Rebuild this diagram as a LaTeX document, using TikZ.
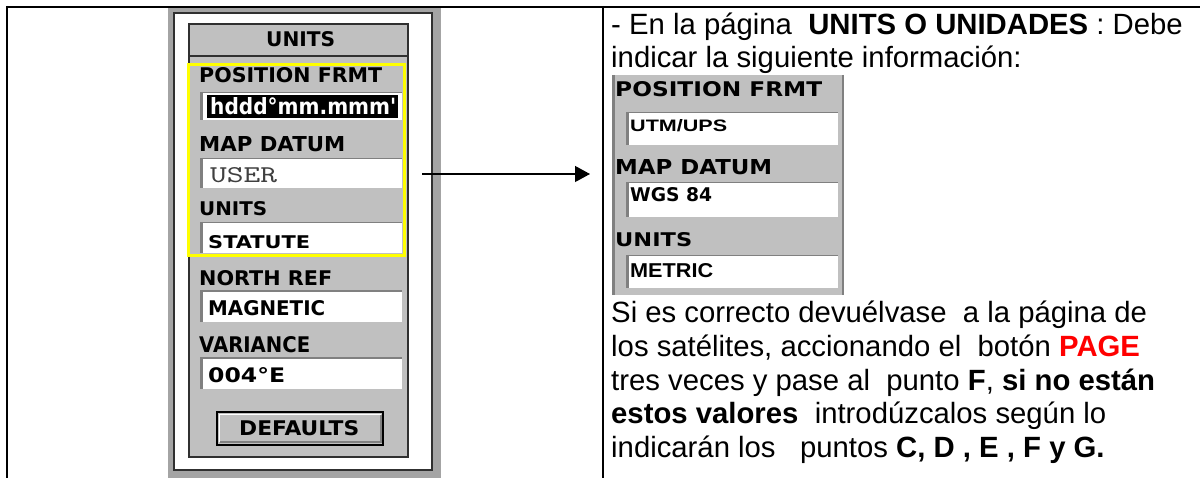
\documentclass[tikz,border=0pt]{standalone}
\usepackage{fontspec}
\usepackage{graphicx}
\setmainfont{Liberation Sans}
\newfontfamily\lcdfont{DejaVu Sans}
\usetikzlibrary{arrows.meta}
\definecolor{lcdgray}{HTML}{C0C0C0}
\definecolor{bandgray}{HTML}{A4A4A4}
\definecolor{insetgray}{HTML}{808080}
\definecolor{framedark}{HTML}{303030}
\definecolor{pagered}{HTML}{FF0000}
\definecolor{hlyellow}{HTML}{FFFF00}
\newcommand{\gfit}[3]{\resizebox{#1pt}{#2pt}{#3}}
\newcommand{\lcdfield}[4]{%
  \fill[white] (#1,#2) rectangle (#3,#4);
  \draw[insetgray, line width=3pt] (#1+1.5,#2) -- (#1+1.5,#4);
  \draw[insetgray, line width=1.5pt] (#1,#2+0.75) -- (#3,#2+0.75);
}
\tikzset{
  lbl/.style={anchor=base west, inner sep=0pt, font=\lcdfont\bfseries},
  body/.style={anchor=base west, inner sep=0pt, font=\fontsize{29.3}{34}\selectfont},
  rule/.style={black, line width=2pt},
}
\begin{document}
\begin{tikzpicture}[x=1pt,y=-1pt]
\useasboundingbox (0,0) rectangle (1201,478);
\fill[white] (0,0) rectangle (1201,478);
% table lines
\draw[rule] (6,7) -- (1200,7);
\draw[rule] (7,6) -- (7,478);
\draw[rule] (603,6) -- (603,478);

% ---------- left screenshot ----------
\fill[bandgray] (168,8) rectangle (441,478);
\filldraw[fill=white, draw=framedark, line width=1.5pt] (174,13) rectangle (432,470);
\filldraw[fill=lcdgray, draw=framedark, line width=2pt] (189,24) rectangle (408,457);
\draw[framedark, line width=2pt] (189,56) -- (408,56);
\node[lbl] (ttl) at (266,47) {\gfit{69}{15}{UNITS}};

\node[lbl] (l1) at (199,83) {\gfit{183}{15}{POSITION FRMT}};
\lcdfield{200}{92}{402}{120}
\fill[black] (207,95) rectangle (398,118);
\node[lbl, text=white] (v1) at (210,115) {\gfit{186}{17}{hddd°mm.mmm'}};

\node[lbl] (l2) at (199,152) {\gfit{146}{15}{MAP DATUM}};
\lcdfield{200}{158}{402}{188}
\node[anchor=base west, inner sep=0pt, font=\ttfamily, text=black!75] (v2) at (210,183) {\gfit{67}{15}{USER}};

\node[lbl] (l3) at (199,215) {\gfit{68}{14}{UNITS}};
\lcdfield{200}{222}{402}{253}
\node[lbl] (v3) at (208,248) {\gfit{102}{13}{STATUTE}};

\node[lbl] (l4) at (199,285) {\gfit{133}{15}{NORTH REF}};
\lcdfield{200}{290}{402}{322}
\node[lbl] (v4) at (208,315) {\gfit{117}{15}{MAGNETIC}};

\node[lbl] (l5) at (199,352) {\gfit{111}{16}{VARIANCE}};
\lcdfield{200}{357}{402}{389}
\node[lbl] (v5) at (208,382) {\gfit{77}{15}{004°E}};

% DEFAULTS button
\filldraw[fill=lcdgray, draw=black, line width=1.5pt] (217,412) rectangle (383,445);
\draw[white, line width=1.5pt] (219.5,442) -- (219.5,414.5) -- (380.5,414.5);
\draw[insetgray, line width=2pt] (220,442) -- (380.5,442) -- (380.5,415);
\node[lbl] (btn) at (239,435) {\gfit{120}{15}{DEFAULTS}};

% yellow highlight
\node[draw=hlyellow, line width=3pt, inner sep=0pt, minimum width=216pt, minimum height=191pt, anchor=north west] (hl) at (187,63) {};

% arrow
\coordinate (as) at (422,174);
\coordinate (ae) at (590,174);
\draw[black, line width=1.2pt, -{Triangle[length=15pt,width=16pt]}] (as) -- (ae);

% ---------- right column ----------
\node[body] (p1) at (611,35) {- En la página\ \ \textbf{UNITS O UNIDADES} : Debe};
\node[body] (p2) at (611,68) {indicar la siguiente información:};

\fill[lcdgray] (612,75) rectangle (844,295);
\draw[insetgray, line width=3pt] (613.5,75) -- (613.5,295);
\draw[insetgray, line width=2pt] (843,75) -- (843,295);
\node[lbl] (r1) at (615,97) {\gfit{207}{15}{POSITION FRMT}};
\lcdfield{626}{112}{838}{145}
\node[anchor=base west, inner sep=0pt, font=\bfseries] (rv1) at (630,132) {\gfit{97}{12}{UTM/UPS}};
\node[lbl] (r2) at (615,175) {\gfit{157}{15}{MAP DATUM}};
\lcdfield{626}{182}{838}{217}
\node[lbl] (rv2) at (630,202) {\gfit{82}{14}{WGS 84}};
\node[lbl] (r3) at (615,247) {\gfit{77}{14}{UNITS}};
\lcdfield{626}{255}{838}{288}
\node[anchor=base west, inner sep=0pt, font=\bfseries] (rv3) at (630,277) {\gfit{83}{14}{METRIC}};

\node[body] (p3) at (611,322) {Si es correcto devuélvase\ \ a la página de};
\node[body] (p4) at (611,356) {los satélites, accionando el\ \ botón \textcolor{pagered}{\textbf{PAGE}}};
\node[body] (p5) at (611,390) {tres veces y pase al\ \ punto \textbf{F}, \textbf{si no están}};
\node[body] (p6) at (611,423) {\textbf{estos valores}\ \ introdúzcalos según lo};
\node[body] (p7) at (611,457) {indicarán los\ \ \ puntos \textbf{C, D , E , F y G.}};
\end{tikzpicture}
\end{document}
